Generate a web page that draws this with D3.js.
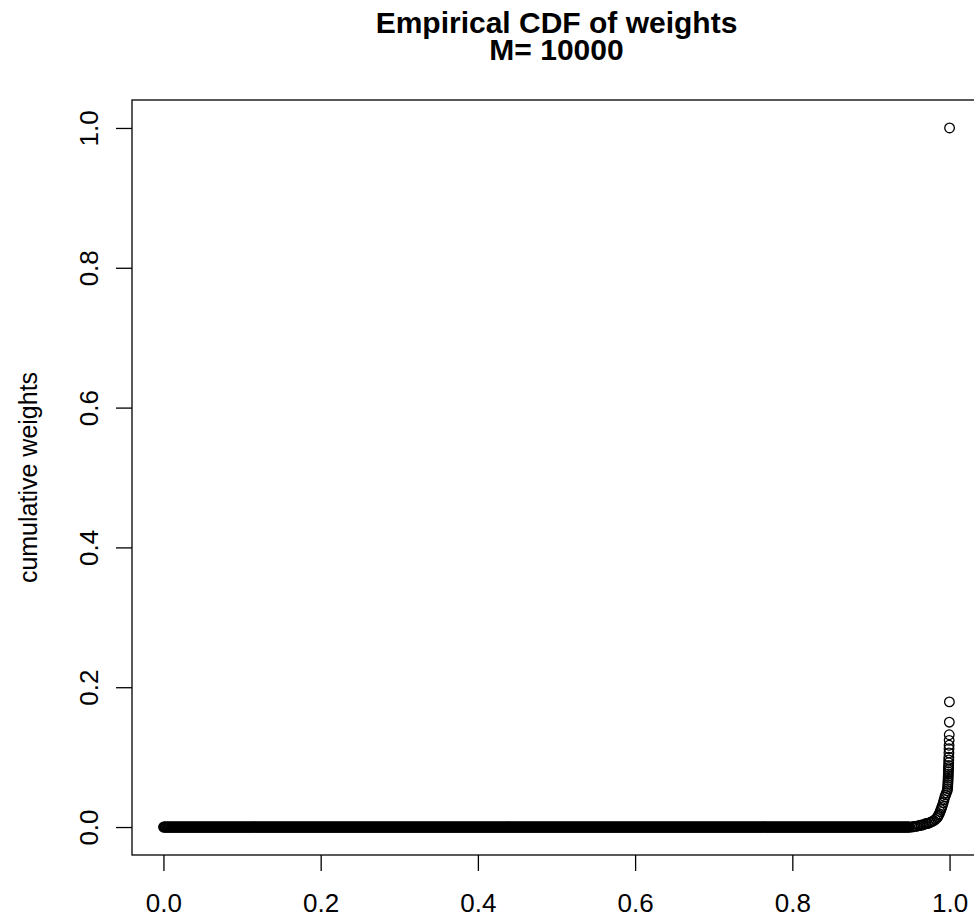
<!DOCTYPE html>
<html>
<head>
<meta charset="utf-8">
<script src="https://cdn.jsdelivr.net/npm/d3@7"></script>
<style>
  body { margin: 0; background: #fff; }
  text { font-family: "Liberation Sans", Arial, sans-serif; }
</style>
</head>
<body>
<div id="chart"></div>
<script>
// Title lines
const titleLines = ["Empirical CDF of weights", "M= 10000"];
const yLabel = "cumulative weights";

// Tick values on both axes
const xTicks = [0.0, 0.2, 0.4, 0.6, 0.8, 1.0];
const yTicks = [0.0, 0.2, 0.4, 0.6, 0.8, 1.0];

// Flat part of the curve: weights that add up to ~0
const flatRange = [0.0001, 0.95];
const flatStep = 0.001;
const flatValue = 0.0;

// Knee of the curve
const kneeX = [0.952, 0.954, 0.956, 0.958, 0.960, 0.962, 0.964, 0.966, 0.968, 0.970,
               0.972, 0.974, 0.976, 0.978, 0.980, 0.982, 0.984, 0.985, 0.986, 0.987,
               0.988, 0.989, 0.990, 0.991, 0.992, 0.993, 0.994, 0.995, 0.996, 0.997];
const kneeY = [0.000, 0.001, 0.001, 0.001, 0.002, 0.002, 0.003, 0.003, 0.004, 0.005,
               0.005, 0.006, 0.007, 0.008, 0.009, 0.011, 0.013, 0.015, 0.017, 0.019,
               0.022, 0.025, 0.028, 0.031, 0.035, 0.039, 0.043, 0.046, 0.049, 0.052];

// Last points, the nearly vertical tail at the right
const tailX = [0.9975, 0.9977, 0.9978, 0.9980, 0.9981, 0.9982, 0.9983, 0.9984, 0.9985, 0.9986,
               0.9987, 0.9988, 0.9989, 0.9990, 0.9991, 0.9992, 0.9993, 0.9994, 0.9995, 0.9996,
               0.9997, 0.9998, 1.0000];
const tailY = [0.055, 0.058, 0.061, 0.064, 0.067, 0.070, 0.073, 0.076, 0.079, 0.082,
               0.085, 0.088, 0.092, 0.096, 0.100, 0.106, 0.112, 0.117, 0.124, 0.132,
               0.150, 0.179, 1.000];

const width = 974, height = 915;
const box = {left: 132, right: 981, top: 100, bottom: 855};

const svg = d3.select("#chart")
    .append("svg")
    .attr("width", width)
    .attr("height", height);

// R style axes: 4% padding around the data range
const x = d3.scaleLinear()
    .domain([-0.04, 1.04])
    .range([box.left, box.right]);

const y = d3.scaleLinear()
    .domain([-0.04, 1.04])
    .range([box.bottom, box.top]);

// Build the points
const points = [];
d3.range(flatRange[0], flatRange[1], flatStep).forEach(v => points.push({x: v, y: flatValue}));
kneeX.forEach((v, i) => points.push({x: v, y: kneeY[i]}));
tailX.forEach((v, i) => points.push({x: v, y: tailY[i]}));

svg.append("g")
    .selectAll("circle")
    .data(points)
    .enter()
    .append("circle")
    .attr("cx", d => x(d.x))
    .attr("cy", d => y(d.y))
    .attr("r", 4.8)
    .attr("fill", "none")
    .attr("stroke", "#000")
    .attr("stroke-width", 1.3);

// Plot frame
svg.append("rect")
    .attr("x", box.left)
    .attr("y", box.top)
    .attr("width", box.right - box.left)
    .attr("height", box.bottom - box.top)
    .attr("fill", "none")
    .attr("stroke", "#000")
    .attr("stroke-width", 1.3);

// x axis
const xAxis = svg.append("g")
    .attr("transform", `translate(0,${box.bottom})`)
    .call(d3.axisBottom(x).tickValues(xTicks).tickFormat(d3.format(".1f"))
        .tickSize(16).tickSizeOuter(0));
xAxis.select(".domain").remove();
xAxis.selectAll("line").attr("stroke", "#000").attr("stroke-width", 1.3);
xAxis.selectAll("text")
    .attr("y", 57)
    .attr("dy", null)
    .attr("font-size", 26)
    .attr("font-family", "Liberation Sans, Arial, sans-serif")
    .attr("fill", "#000");

// y axis
const yAxis = svg.append("g")
    .attr("transform", `translate(${box.left},0)`)
    .call(d3.axisLeft(y).tickValues(yTicks).tickFormat(d3.format(".1f"))
        .tickSize(16).tickSizeOuter(0));
yAxis.select(".domain").remove();
yAxis.selectAll("line").attr("stroke", "#000").attr("stroke-width", 1.3);
yAxis.selectAll("text")
    .attr("x", null)
    .attr("dy", null)
    .attr("transform", "translate(-34,0) rotate(-90)")
    .attr("text-anchor", "middle")
    .attr("font-size", 26)
    .attr("font-family", "Liberation Sans, Arial, sans-serif")
    .attr("fill", "#000");

// y label
svg.append("text")
    .attr("transform", `translate(37,${(box.top + box.bottom) / 2}) rotate(-90)`)
    .attr("text-anchor", "middle")
    .attr("font-size", 25)
    .text(yLabel);

// Title
const cx = (box.left + box.right) / 2;
svg.selectAll(".title")
    .data(titleLines)
    .enter()
    .append("text")
    .attr("class", "title")
    .attr("x", cx)
    .attr("y", (d, i) => 33 + i * 27)
    .attr("text-anchor", "middle")
    .attr("font-size", 30)
    .attr("font-weight", "bold")
    .text(d => d);
</script>
</body>
</html>
